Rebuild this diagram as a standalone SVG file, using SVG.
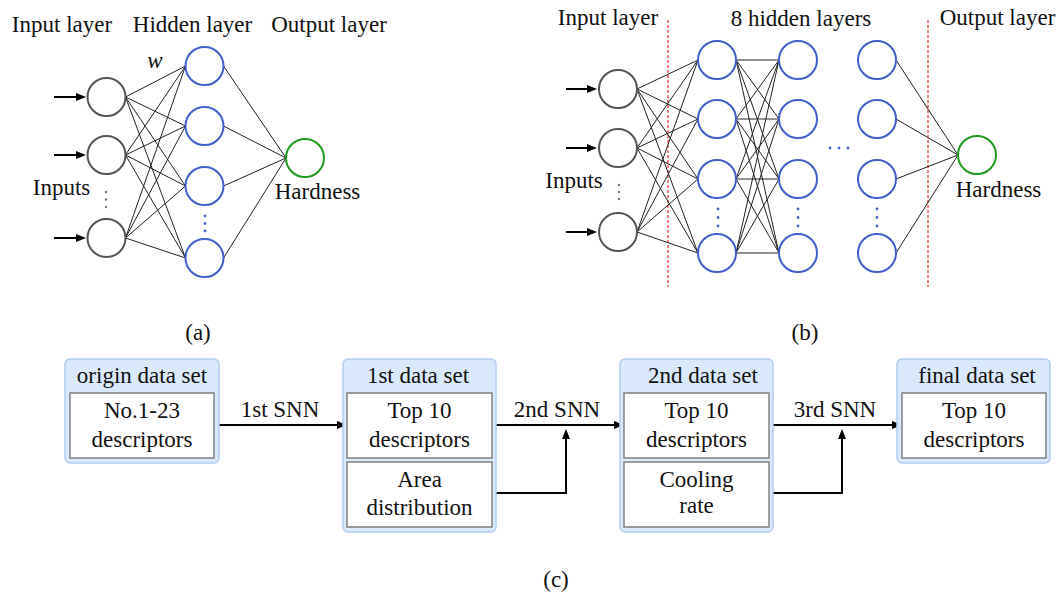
<svg xmlns="http://www.w3.org/2000/svg" width="1061" height="595" viewBox="0 0 1061 595" font-family="'Liberation Serif', 'DejaVu Serif', serif">
<style>
text{font-family:'Liberation Serif','DejaVu Serif',serif;font-size:23px;fill:#111;text-anchor:middle}
.in{fill:#fff;stroke:#555;stroke-width:2}
.hid{fill:#fff;stroke:#3f5fc9;stroke-width:2}
.out{fill:#fff;stroke:#1e9a1e;stroke-width:2}
.w{stroke:#222;stroke-width:1;fill:none}
.arr{stroke:#000;stroke-width:2;fill:none}
.red{stroke:#ee5555;stroke-width:1.5;stroke-dasharray:3 2;fill:none}
.bd{fill:#4a6ad0}
.gd{fill:#777}
.outer{fill:#dae8fc;stroke:#b3cdf0;stroke-width:1.5}
.inner{fill:#fff;stroke:#808080;stroke-width:1.5}
</style>
<defs>
<marker id="ah" viewBox="0 0 10 8" refX="3" refY="4" markerWidth="10" markerHeight="8" markerUnits="userSpaceOnUse" orient="auto">
<path d="M0,0 L10,4 L0,8 z" fill="#000"/>
</marker>
</defs>
<rect width="1061" height="595" fill="#fff"/>

<!-- connectors -->
<g id="connectors">
<!-- (a) -->
<g class="w">
<line x1="125.5" y1="97" x2="185.5" y2="66"/><line x1="125.5" y1="97" x2="185.5" y2="126"/><line x1="125.5" y1="97" x2="185.5" y2="186"/><line x1="125.5" y1="97" x2="185.5" y2="258"/>
<line x1="125.5" y1="155" x2="185.5" y2="66"/><line x1="125.5" y1="155" x2="185.5" y2="126"/><line x1="125.5" y1="155" x2="185.5" y2="186"/><line x1="125.5" y1="155" x2="185.5" y2="258"/>
<line x1="125.5" y1="238" x2="185.5" y2="66"/><line x1="125.5" y1="238" x2="185.5" y2="126"/><line x1="125.5" y1="238" x2="185.5" y2="186"/><line x1="125.5" y1="238" x2="185.5" y2="258"/>
<line x1="223.5" y1="66" x2="286" y2="158"/><line x1="223.5" y1="126" x2="286" y2="158"/><line x1="223.5" y1="186" x2="286" y2="158"/><line x1="223.5" y1="258" x2="286" y2="158"/>
</g>
<line class="arr" x1="54" y1="97" x2="79" y2="97" marker-end="url(#ah)"/>
<line class="arr" x1="54" y1="155" x2="79" y2="155" marker-end="url(#ah)"/>
<line class="arr" x1="54" y1="238" x2="79" y2="238" marker-end="url(#ah)"/>
<!-- (b) -->
<line class="red" x1="668" y1="20" x2="668" y2="287"/>
<line class="red" x1="928" y1="20" x2="928" y2="287"/>
<g class="w">
<line x1="637" y1="89" x2="698" y2="60"/><line x1="637" y1="89" x2="698" y2="119"/><line x1="637" y1="89" x2="698" y2="179"/><line x1="637" y1="89" x2="698" y2="253"/>
<line x1="637" y1="148" x2="698" y2="60"/><line x1="637" y1="148" x2="698" y2="119"/><line x1="637" y1="148" x2="698" y2="179"/><line x1="637" y1="148" x2="698" y2="253"/>
<line x1="637" y1="232" x2="698" y2="60"/><line x1="637" y1="232" x2="698" y2="119"/><line x1="637" y1="232" x2="698" y2="179"/><line x1="637" y1="232" x2="698" y2="253"/>
<line x1="736" y1="60" x2="779" y2="60"/><line x1="736" y1="60" x2="779" y2="119"/><line x1="736" y1="60" x2="779" y2="179"/><line x1="736" y1="60" x2="779" y2="253"/>
<line x1="736" y1="119" x2="779" y2="60"/><line x1="736" y1="119" x2="779" y2="119"/><line x1="736" y1="119" x2="779" y2="179"/><line x1="736" y1="119" x2="779" y2="253"/>
<line x1="736" y1="179" x2="779" y2="60"/><line x1="736" y1="179" x2="779" y2="119"/><line x1="736" y1="179" x2="779" y2="179"/><line x1="736" y1="179" x2="779" y2="253"/>
<line x1="736" y1="253" x2="779" y2="60"/><line x1="736" y1="253" x2="779" y2="119"/><line x1="736" y1="253" x2="779" y2="179"/><line x1="736" y1="253" x2="779" y2="253"/>
<line x1="896" y1="60" x2="958" y2="155"/><line x1="896" y1="119" x2="958" y2="155"/><line x1="896" y1="179" x2="958" y2="155"/><line x1="896" y1="253" x2="958" y2="155"/>
</g>
<line class="arr" x1="566" y1="89" x2="590" y2="89" marker-end="url(#ah)"/>
<line class="arr" x1="566" y1="148" x2="590" y2="148" marker-end="url(#ah)"/>
<line class="arr" x1="566" y1="232" x2="590" y2="232" marker-end="url(#ah)"/>
<!-- (c) -->
<line class="arr" x1="214" y1="425" x2="340" y2="425" marker-end="url(#ah)"/>
<line class="arr" x1="492" y1="425" x2="617" y2="425" marker-end="url(#ah)"/>
<line class="arr" x1="769" y1="425" x2="895" y2="425" marker-end="url(#ah)"/>
<path class="arr" d="M492,493 H566 V436" marker-end="url(#ah)"/>
<path class="arr" d="M769,493 H842 V436" marker-end="url(#ah)"/>
<text x="280" y="417">1st SNN</text>
<text x="557" y="417">2nd SNN</text>
<text x="835" y="417">3rd SNN</text>
</g>

<!-- (a) nodes -->
<g id="a-input-1"><circle class="in" cx="106.5" cy="97" r="19"/></g>
<g id="a-input-2"><circle class="in" cx="106.5" cy="155" r="19"/></g>
<g id="a-input-3"><circle class="in" cx="106.5" cy="238" r="19"/></g>
<g id="a-hidden-1"><circle class="hid" cx="204.5" cy="66" r="19"/></g>
<g id="a-hidden-2"><circle class="hid" cx="204.5" cy="126" r="19"/></g>
<g id="a-hidden-3"><circle class="hid" cx="204.5" cy="186" r="19"/></g>
<g id="a-hidden-4"><circle class="hid" cx="204.5" cy="258" r="19"/></g>
<g id="a-output"><circle class="out" cx="305" cy="158" r="19"/></g>
<g id="a-dots">
<circle class="gd" cx="106" cy="192" r="1.2"/><circle class="gd" cx="106" cy="199.5" r="1.2"/><circle class="gd" cx="106" cy="207" r="1.2"/>
<circle class="bd" cx="205" cy="216" r="1.4"/><circle class="bd" cx="205" cy="223.5" r="1.4"/><circle class="bd" cx="205" cy="231" r="1.4"/>
</g>
<g id="a-labels">
<text x="62" y="32">Input layer</text>
<text x="192.5" y="32">Hidden layer</text>
<text x="329" y="32">Output layer</text>
<text x="155" y="68" font-style="italic">w</text>
<text x="61.5" y="195">Inputs</text>
<text x="317.5" y="199">Hardness</text>
<text x="198" y="340">(a)</text>
</g>

<!-- (b) nodes -->
<g id="b-input-1"><circle class="in" cx="618" cy="89" r="19"/></g>
<g id="b-input-2"><circle class="in" cx="618" cy="148" r="19"/></g>
<g id="b-input-3"><circle class="in" cx="618" cy="232" r="19"/></g>
<g id="b-h1"><circle class="hid" cx="717" cy="60" r="19"/><circle class="hid" cx="717" cy="119" r="19"/><circle class="hid" cx="717" cy="179" r="19"/><circle class="hid" cx="717" cy="253" r="19"/></g>
<g id="b-h2"><circle class="hid" cx="798" cy="60" r="19"/><circle class="hid" cx="798" cy="119" r="19"/><circle class="hid" cx="798" cy="179" r="19"/><circle class="hid" cx="798" cy="253" r="19"/></g>
<g id="b-h8"><circle class="hid" cx="877" cy="60" r="19"/><circle class="hid" cx="877" cy="119" r="19"/><circle class="hid" cx="877" cy="179" r="19"/><circle class="hid" cx="877" cy="253" r="19"/></g>
<g id="b-output"><circle class="out" cx="977" cy="155" r="19"/></g>
<g id="b-dots">
<circle class="gd" cx="619" cy="185" r="1.2"/><circle class="gd" cx="619" cy="192" r="1.2"/><circle class="gd" cx="619" cy="199" r="1.2"/>
<circle class="bd" cx="718" cy="209" r="1.4"/><circle class="bd" cx="718" cy="217.5" r="1.4"/><circle class="bd" cx="718" cy="226" r="1.4"/>
<circle class="bd" cx="798" cy="209" r="1.4"/><circle class="bd" cx="798" cy="217.5" r="1.4"/><circle class="bd" cx="798" cy="226" r="1.4"/>
<circle class="bd" cx="877" cy="209" r="1.4"/><circle class="bd" cx="877" cy="217.5" r="1.4"/><circle class="bd" cx="877" cy="226" r="1.4"/>
<circle class="bd" cx="830" cy="148" r="1.4"/><circle class="bd" cx="839" cy="148" r="1.4"/><circle class="bd" cx="848" cy="148" r="1.4"/>
</g>
<g id="b-labels">
<text x="608" y="25">Input layer</text>
<text x="801" y="26">8 hidden layers</text>
<text x="997.5" y="25">Output layer</text>
<text x="574" y="188">Inputs</text>
<text x="998.5" y="197">Hardness</text>
<text x="805" y="340">(b)</text>
</g>

<!-- (c) nodes -->
<g id="origin-data-set">
<rect class="outer" x="65" y="359" width="154" height="104" rx="5"/>
<text x="142" y="383">origin data set</text>
<rect class="inner" x="70" y="393" width="144" height="65"/>
<text x="142" y="418">No.1-23</text>
<text x="142" y="447">descriptors</text>
</g>
<g id="first-data-set">
<rect class="outer" x="343" y="359" width="153" height="173" rx="5"/>
<text x="418" y="383">1st data set</text>
<rect class="inner" x="347" y="393" width="145" height="65"/>
<text x="419.5" y="418">Top 10</text>
<text x="419.5" y="447">descriptors</text>
<rect class="inner" x="347" y="462" width="145" height="65"/>
<text x="419.5" y="487">Area</text>
<text x="419.5" y="515">distribution</text>
</g>
<g id="second-data-set">
<rect class="outer" x="620" y="359" width="153" height="173" rx="5"/>
<text x="703" y="383">2nd data set</text>
<rect class="inner" x="624" y="393" width="145" height="65"/>
<text x="696.5" y="418">Top 10</text>
<text x="696.5" y="447">descriptors</text>
<rect class="inner" x="624" y="462" width="145" height="65"/>
<text x="696.5" y="487">Cooling</text>
<text x="696.5" y="513">rate</text>
</g>
<g id="final-data-set">
<rect class="outer" x="897" y="359" width="153" height="104" rx="5"/>
<text x="977" y="383">final data set</text>
<rect class="inner" x="902" y="393" width="144" height="65"/>
<text x="974" y="418">Top 10</text>
<text x="974" y="447">descriptors</text>
</g>
<text x="556" y="587">(c)</text>
</svg>
